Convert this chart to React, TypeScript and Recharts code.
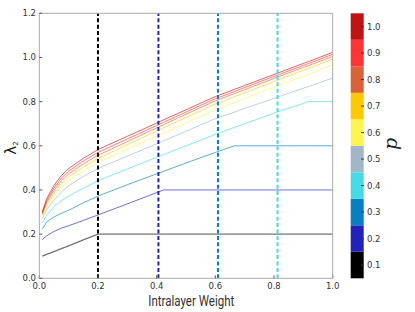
import { LineChart, Line, XAxis, YAxis, ReferenceLine, Label, BarChart, Bar } from 'recharts';

// intralayer weight grid shared by all curves
const weights = [0.01, 0.025, 0.05, 0.075, 0.1, 0.15, 0.2, 0.3, 0.4, 0.423, 0.5, 0.6, 0.664, 0.7, 0.8, 0.9, 0.917, 1.0];

// lambda_2 per p
const lambdaP01 = [0.1, 0.108, 0.121, 0.134, 0.147, 0.174, 0.2, 0.2, 0.2, 0.2, 0.2, 0.2, 0.2, 0.2, 0.2, 0.2, 0.2, 0.2];
const lambdaP02 = [0.175, 0.192, 0.212, 0.227, 0.238, 0.262, 0.287, 0.337, 0.388, 0.4, 0.4, 0.4, 0.4, 0.4, 0.4, 0.4, 0.4, 0.4];
const lambdaP03 = [0.222, 0.255, 0.278, 0.294, 0.308, 0.342, 0.372, 0.424, 0.473, 0.484, 0.522, 0.57, 0.6, 0.6, 0.6, 0.6, 0.6, 0.6];
const lambdaP04 = [0.25, 0.285, 0.325, 0.352, 0.372, 0.408, 0.442, 0.495, 0.548, 0.56, 0.6, 0.652, 0.683, 0.7, 0.748, 0.792, 0.8, 0.8];
const lambdaP05 = [0.27, 0.31, 0.354, 0.391, 0.419, 0.461, 0.497, 0.553, 0.609, 0.622, 0.666, 0.723, 0.752, 0.769, 0.815, 0.861, 0.868, 0.907];
const lambdaP06 = [0.28, 0.324, 0.372, 0.412, 0.442, 0.486, 0.525, 0.584, 0.643, 0.657, 0.703, 0.763, 0.795, 0.814, 0.865, 0.916, 0.924, 0.967];
const lambdaP07 = [0.287, 0.335, 0.386, 0.428, 0.459, 0.504, 0.543, 0.605, 0.667, 0.681, 0.728, 0.789, 0.822, 0.84, 0.891, 0.942, 0.95, 0.993];
const lambdaP08 = [0.292, 0.344, 0.398, 0.441, 0.473, 0.518, 0.557, 0.619, 0.681, 0.695, 0.743, 0.803, 0.836, 0.854, 0.905, 0.955, 0.963, 1.005];
const lambdaP09 = [0.296, 0.352, 0.409, 0.453, 0.485, 0.531, 0.57, 0.631, 0.692, 0.706, 0.753, 0.813, 0.845, 0.864, 0.914, 0.964, 0.972, 1.014];
const lambdaP10 = [0.3, 0.36, 0.42, 0.465, 0.497, 0.543, 0.583, 0.643, 0.703, 0.717, 0.763, 0.823, 0.855, 0.873, 0.923, 0.973, 0.981, 1.023];

const pLevels = [0.1, 0.2, 0.3, 0.4, 0.5, 0.6, 0.7, 0.8, 0.9, 1.0];
const pColors = ['#000000', '#2222bb', '#0580c0', '#44dbe4', '#a2b5c9', '#fff450', '#ffc900', '#db6139', '#ff3434', '#c01414'];

// dashed verticals (one per low p)
const markerWeights = [0.2, 0.406, 0.609, 0.812];

const xTicks = [0, 0.2, 0.4, 0.6, 0.8, 1.0];
const yTicks = [0, 0.2, 0.4, 0.6, 0.8, 1.0, 1.2];
const cbTicks = [0.05, 0.15, 0.25, 0.35, 0.45, 0.55, 0.65, 0.75, 0.85, 0.95];

const series = [lambdaP01, lambdaP02, lambdaP03, lambdaP04, lambdaP05, lambdaP06, lambdaP07, lambdaP08, lambdaP09, lambdaP10];
const keys = pLevels.map((_, i) => `p${i}`);

const data = weights.map((w, j) => {
  const row: Record<string, number> = { w };
  series.forEach((s, i) => (row[keys[i]] = s[j]));
  return row;
});

const cbRow: Record<string, number | string> = { name: 'p' };
keys.forEach((k) => (cbRow[k] = 0.1));
const cbData = [cbRow];

const W = 415;
const H = 312;
const tickFont = { fontSize: 8.5, fontFamily: 'DejaVu Sans', fill: '#333' };
const frame = '#a8a8a8';

export default function App() {
  return (
    <div style={{ position: 'absolute', left: 0, top: 0, width: W, height: H, background: '#fff' }}>
      <div style={{ position: 'absolute', left: 0, top: 0 }}>
        <LineChart width={W} height={H} data={data} margin={{ top: 0, right: 0, bottom: 0, left: 0 }}>
          <XAxis
            dataKey="w"
            type="number"
            domain={[0, 1]}
            ticks={xTicks}
            tickFormatter={(v: number) => v.toFixed(1)}
            height={33.7}
            tick={tickFont}
            tickSize={-3}
            tickMargin={7.7}
            stroke={frame}
            tickLine={{ stroke: '#555' }}
          >
            <Label
              content={() => (
                <text
                  x={191.3}
                  y={306}
                  textAnchor="middle"
                  textLength={86}
                  lengthAdjust="spacingAndGlyphs"
                  style={{ fontSize: 14, fontFamily: 'Roboto', fill: '#333' }}
                >
                  Intralayer Weight
                </text>
              )}
            />
          </XAxis>
          <XAxis
            xAxisId="top"
            dataKey="w"
            type="number"
            orientation="top"
            domain={[0, 1]}
            ticks={xTicks}
            height={13.3}
            tick={false}
            tickSize={-3}
            stroke={frame}
          />
          <YAxis
            domain={[0, 1.2]}
            ticks={yTicks}
            tickFormatter={(v: number) => v.toFixed(1)}
            width={39.3}
            tick={tickFont}
            tickSize={-3}
            tickMargin={6.3}
            stroke={frame}
            tickLine={{ stroke: '#555' }}
          >
            <Label
              content={() => (
                <text
                  transform="rotate(-90, 16, 148)"
                  x={16}
                  y={148}
                  textAnchor="middle"
                  style={{ fontSize: 15, fontFamily: 'DejaVu Sans', fill: '#222' }}
                >
                  λ<tspan dy={1.5} style={{ fontSize: 7 }}>2</tspan>
                </text>
              )}
            />
          </YAxis>
          <YAxis
            yAxisId="right"
            orientation="right"
            domain={[0, 1.2]}
            ticks={yTicks}
            width={82.3}
            tick={false}
            tickSize={-3}
            stroke={frame}
          />
          {keys.map((k, i) => (
            <Line
              key={k}
              dataKey={k}
              type="linear"
              stroke={pColors[i]}
              strokeOpacity={i === 0 ? 0.55 : 0.65}
              strokeWidth={i === 0 ? 1.3 : 1}
              dot={false}
              activeDot={false}
              isAnimationActive={false}
            />
          ))}
          {markerWeights.map((m, i) => (
            <ReferenceLine key={m} x={m} stroke={pColors[i]} strokeWidth={2} strokeDasharray="4 2.4" />
          ))}
        </LineChart>
      </div>
      <div style={{ position: 'absolute', left: 0, top: 0 }}>
        <BarChart
          width={W}
          height={H}
          data={cbData}
          margin={{ top: 13.3, right: 0, bottom: 33.7, left: 350.7 }}
          barCategoryGap={0}
          barGap={0}
        >
          <XAxis dataKey="name" hide />
          <YAxis
            orientation="right"
            domain={[0, 1]}
            ticks={cbTicks}
            tickFormatter={(v: number) => (v + 0.05).toFixed(1)}
            width={51}
            axisLine={false}
            tick={tickFont}
            tickSize={-3}
            tickMargin={6}
            tickLine={{ stroke: '#333' }}
          >
            <Label
              content={() => (
                <text
                  transform="rotate(-90, 397, 144)"
                  x={397}
                  y={144}
                  textAnchor="middle"
                  style={{ fontSize: 19, fontFamily: 'DejaVu Serif', fontStyle: 'italic', fill: '#222' }}
                >
                  p
                </text>
              )}
            />
          </YAxis>
          {keys.map((k, i) => (
            <Bar key={k} dataKey={k} stackId="cb" fill={pColors[i]} isAnimationActive={false} />
          ))}
        </BarChart>
      </div>
    </div>
  );
}
